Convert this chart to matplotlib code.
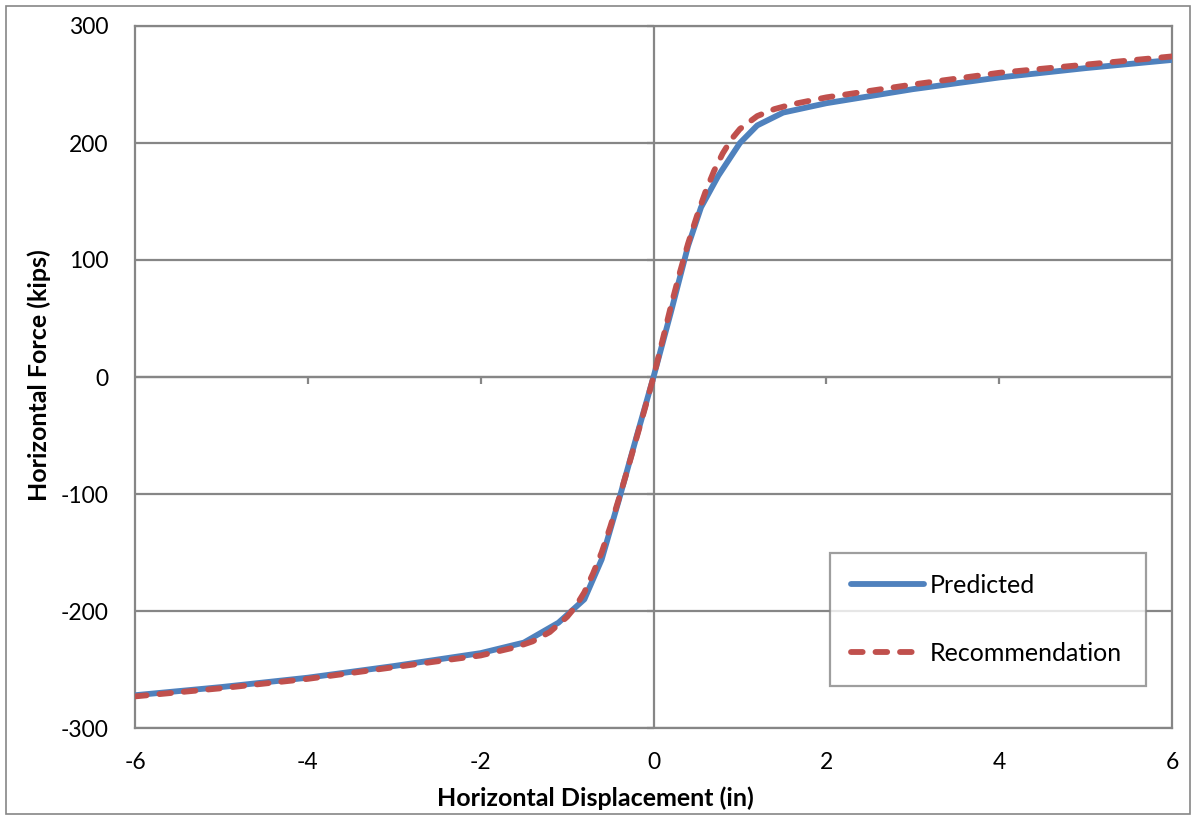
import numpy as np
import matplotlib.pyplot as plt
from matplotlib.patches import Rectangle

# Predicted response (in, kips)
pred_x = [-6, -5, -4, -3, -2, -1.5, -1.1, -0.8, -0.6, -0.4, -0.2, 0,
          0.2, 0.4, 0.55, 0.75, 1.0, 1.2, 1.5, 2, 3, 4, 5, 6]
pred_y = [-272, -265, -257, -247, -236, -227, -210, -190, -156, -105, -52, 0,
          55, 112, 145, 172, 200, 215, 226, 234, 246, 256, 264, 271]

# Recommendation curve
rec_x = [-6, -5, -4, -3, -2, -1.6, -1.4, -1.2, -1.0, -0.9, -0.8, -0.7, -0.6,
         -0.5, -0.4, -0.3, -0.2, -0.1, 0, 0.1, 0.2, 0.3, 0.4, 0.5, 0.6, 0.7,
         0.8, 0.9, 1.0, 1.2, 1.4, 1.6, 2, 3, 4, 5, 6]
rec_y = [-273, -266, -258, -248, -238, -231, -226, -218, -205, -196, -184, -168,
         -150, -128, -104, -79, -53, -27, 0, 30, 60, 88, 114, 137, 158, 176,
         191, 203, 212, 223, 229, 233, 239, 250, 260, 267, 274]

xticks = [-6, -4, -2, 0, 2, 4, 6]
yticks = [-300, -200, -100, 0, 100, 200, 300]

plt.rcParams['font.family'] = ['Lato', 'DejaVu Sans']
grey = '#868686'

fig = plt.figure(figsize=(11.91, 8.17), dpi=100)
fig.patches.append(Rectangle((6 / 1191, 0.004), 1 - 7 / 1191, 1 - 6 / 817 - 0.004,
                             transform=fig.transFigure, fill=False,
                             edgecolor=grey, lw=1.2))
ax = fig.add_axes([135 / 1191, 1 - 728 / 817, 1037 / 1191, 702 / 817])

ax.plot(pred_x, pred_y, color='#4f81bd', lw=4.2, label='Predicted',
        solid_capstyle='round', zorder=3)
ax.plot(rec_x, rec_y, color='#c0504d', lw=4.2, ls=(0, (2.0, 2.2)),
        dash_capstyle='round', label='Recommendation', zorder=4)

ax.set_xlim(-6, 6)
ax.set_ylim(-300, 300)
ax.set_xticks(xticks)
ax.set_yticks(yticks)
ax.set_xticklabels([str(v) for v in xticks], fontsize=16.5)
ax.set_yticklabels([str(v) for v in yticks], fontsize=16.5)
ax.tick_params(length=0)
ax.tick_params(axis='x', pad=17)
ax.tick_params(axis='y', pad=19)

for s in ax.spines.values():
    s.set_color(grey)
    s.set_linewidth(1.6)

ax.grid(axis='y', color=grey, lw=1.6)
ax.axvline(0, color=grey, lw=1.6, zorder=1)
ax.axhline(0, color=grey, lw=1.6, zorder=1)
# tick marks on the axes crossing at zero
ax.plot(xticks[1:-1], [0] * (len(xticks) - 2), ls='none', marker=3,
        ms=5, mew=1.6, color=grey, zorder=1, clip_on=False)
ax.plot([0] * len(yticks), yticks, ls='none', marker=0,
        ms=5, mew=1.6, color=grey, zorder=1, clip_on=False)

ax.set_xlabel('Horizontal Displacement (in)', fontsize=18, fontweight='bold',
              va='center')
ax.set_ylabel('Horizontal Force (kips)', fontsize=18, fontweight='bold',
              va='center')
ax.xaxis.set_label_coords(0.4436, -0.0997)
ax.yaxis.set_label_coords(-0.0926, 0.503)

leg = ax.legend(loc='lower left', bbox_to_anchor=(0.670, 0.0598, 0.305, 0.192),
                mode='expand', fontsize=18, frameon=True, fancybox=False,
                handlelength=2.9, labelspacing=1.8, borderpad=0.85,
                handletextpad=0.25, borderaxespad=0)
leg.get_frame().set_edgecolor(grey)
leg.get_frame().set_linewidth(1.6)

fig.savefig('out.png', dpi=100)
